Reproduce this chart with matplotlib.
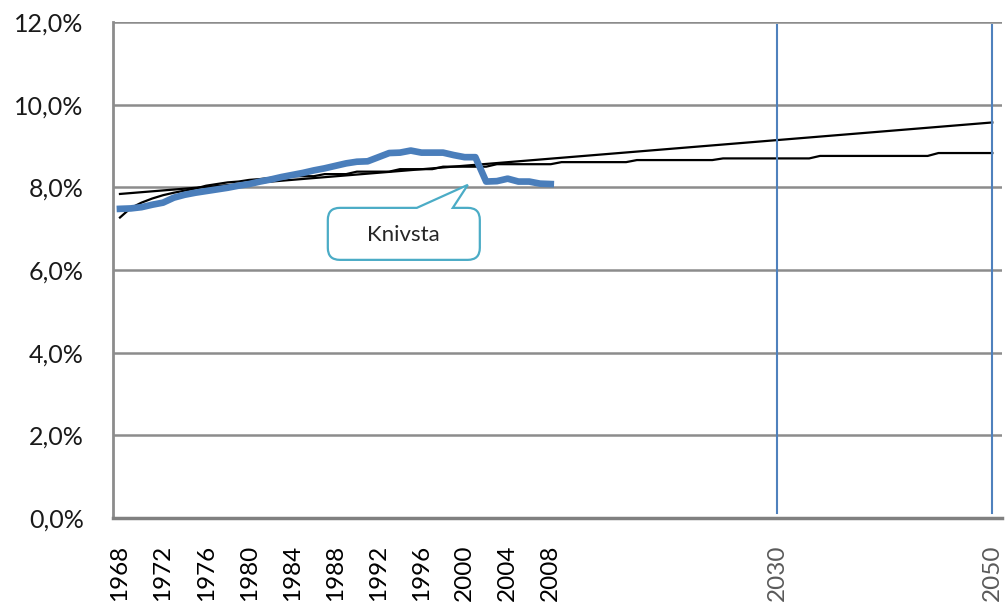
import numpy as np
import matplotlib
matplotlib.use("Agg")
import matplotlib.pyplot as plt
import matplotlib.transforms as mtransforms
from matplotlib.path import Path
from matplotlib.patches import PathPatch

plt.rcParams['font.family'] = ['Lato', 'DejaVu Sans']

# category axis: 1968-2008 and 2010-2050
years = list(range(1968, 2009)) + list(range(2010, 2051))

# share (%), observed 1968-2008
share = [7.48, 7.49, 7.52, 7.58, 7.63, 7.75, 7.82, 7.87, 7.91, 7.95,
         7.99, 8.04, 8.08, 8.14, 8.19, 8.25, 8.30, 8.35, 8.41, 8.46,
         8.52, 8.58, 8.62, 8.63, 8.73, 8.83, 8.84, 8.89, 8.84, 8.84,
         8.84, 8.78, 8.73, 8.73, 8.14, 8.15, 8.21, 8.14, 8.14, 8.09,
         8.08]

# forecast series, level by category index (start index, value)
fc_start = [0, 1, 2, 3, 4, 5, 6, 7, 8, 9, 10, 11, 12, 13, 14, 15, 16, 19,
            22, 26, 30, 35, 41, 48, 56, 65, 76]
fc_value = [7.27, 7.50, 7.63, 7.73, 7.81, 7.87, 7.92, 7.97, 8.04, 8.08,
            8.12, 8.14, 8.18, 8.20, 8.23, 8.24, 8.27, 8.32, 8.38, 8.44,
            8.50, 8.56, 8.61, 8.66, 8.70, 8.76, 8.83]

# linear trend, endpoints
trend_years = [1968, 2050]
trend_vals = [7.84, 9.57]

marked_years = [2030, 2050]
label_years = list(range(1968, 2009, 4))

idx = {y: i for i, y in enumerate(years)}
n = len(years)

fc_len = np.diff(fc_start + [n])
forecast = np.repeat(fc_value, fc_len)

fig = plt.figure(figsize=(10.05, 6.08), dpi=100)
ax = fig.add_axes([0.1124, 0.148, 0.8846, 0.8158])

ax.set_ylim(0, 12)
ax.set_xlim(-0.65, 81.9)
ax.set_yticks(np.arange(0, 13, 2))
ax.set_yticklabels([f"{v:.1f}%".replace('.', ',') for v in np.arange(0, 13, 2)])
for y in np.arange(2, 13, 2):
    ax.axhline(y, color='#8c8c8c', lw=1.8, zorder=1)

for s in ['top', 'right']:
    ax.spines[s].set_visible(False)
ax.spines['left'].set_color('#8c8c8c')
ax.spines['left'].set_linewidth(2)
ax.spines['bottom'].set_color('#808080')
ax.spines['bottom'].set_linewidth(2.5)
ax.tick_params(axis='y', length=0, pad=21, labelsize=18, labelcolor='#1a1a1a')
ax.tick_params(axis='x', length=0, pad=19, labelsize=17.5)

ticks = [idx[y] for y in label_years] + [idx[y] for y in marked_years]
ax.set_xticks(ticks)
ax.set_xticklabels([str(y) for y in label_years + marked_years],
                   rotation=90, va='top', ha='center')
for lab in ax.get_xticklabels()[-2:]:
    lab.set_color('#5a5a5a')

xs = np.arange(n)
ax.plot(xs, forecast, color='black', lw=1.6, zorder=3)
ax.plot([idx[y] for y in trend_years], trend_vals, color='black', lw=1.6, zorder=3)
ax.plot(xs[:len(share)], share, color='#4a7ebb', lw=4.8, zorder=4,
        solid_joinstyle='round')

for y in marked_years:
    ax.plot([idx[y], idx[y]], [0.12, 11.93], color='#4f81bd', lw=1.5, zorder=5)

# callout bubble, tip anchored in data space, shape in inches
tip_x, tip_y = 32.3, 8.06
trans = fig.dpi_scale_trans + mtransforms.ScaledTranslation(tip_x, tip_y, ax.transData)
l, r, t, b, rad = -1.40, 0.12, -0.23, -0.75, 0.12
verts = [(-0.51, t), (0, 0), (-0.15, t),
         (r - rad, t), (r, t), (r, t - rad),
         (r, b + rad), (r, b), (r - rad, b),
         (l + rad, b), (l, b), (l, b + rad),
         (l, t - rad), (l, t), (l + rad, t),
         (-0.51, t), (-0.51, t)]
codes = [Path.MOVETO, Path.LINETO, Path.LINETO,
         Path.LINETO, Path.CURVE3, Path.CURVE3,
         Path.LINETO, Path.CURVE3, Path.CURVE3,
         Path.LINETO, Path.CURVE3, Path.CURVE3,
         Path.LINETO, Path.CURVE3, Path.CURVE3,
         Path.LINETO, Path.CLOSEPOLY]
ax.add_patch(PathPatch(Path(verts, codes), transform=trans, facecolor='white',
                       edgecolor='#4bacc6', lw=1.6, zorder=6, clip_on=False))
ax.text(-0.64, -0.50, "Knivsta", transform=trans, ha='center', va='center',
        fontsize=16, color='#262626', zorder=7)

fig.savefig("out.png", dpi=100)
